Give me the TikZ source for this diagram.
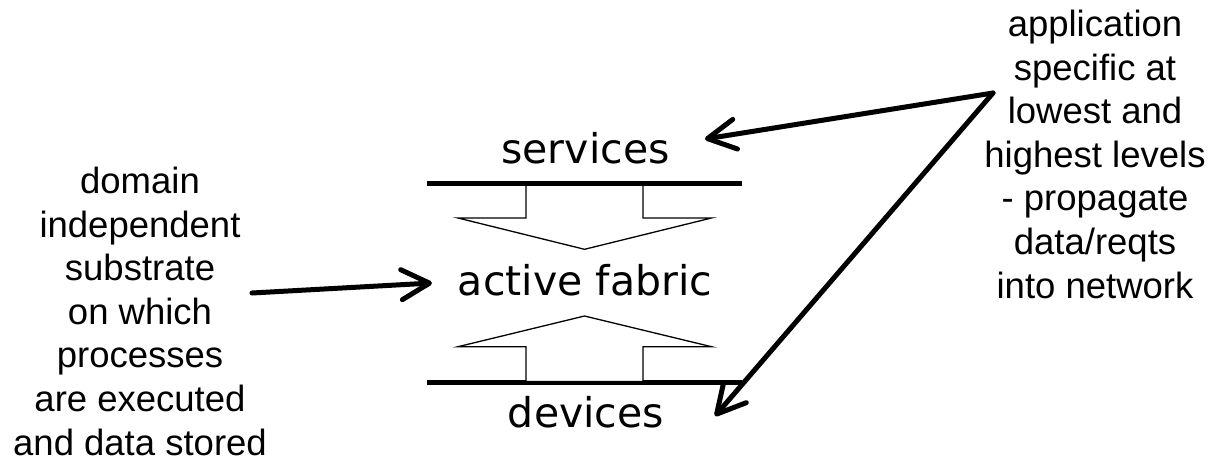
\documentclass[tikz,border=0pt]{standalone}
\usepackage{fontspec}
\setmainfont{Liberation Sans}
\newfontfamily\comicfont{DejaVu Sans}
\usetikzlibrary{arrows.meta}
\tikzset{
  note/.style={font=\fontsize{36.5}{43.6}\selectfont, align=center, inner sep=0pt, anchor=base},
  layer/.style={font=\comicfont\fontsize{41}{48}\selectfont, inner sep=0pt, anchor=base},
  bar/.style={line width=5pt},
  blockarrow/.style={draw, fill=white, line width=1.3pt, line join=miter},
  pointer/.style={line width=5pt, line cap=round, line join=round, -{Straight Barb[length=28pt,width=30pt,round]}}
}
\begin{document}
\begin{tikzpicture}[x=1pt,y=-1pt]
\useasboundingbox (0,0) rectangle (1215,461);
% texts
\node[note] (left) at (140,455) {domain\\independent\\substrate\\on which\\processes\\are executed\\and data stored};
\node[note] (right) at (1095,298) {application\\specific at\\lowest and\\highest levels\\- propagate\\data/reqts\\into network};
\node[layer] (services) at (585.5,163) {services};
\node[layer] (fabric) at (585,295) {active fabric};
\node[layer] (devices) at (586,427) {devices};
% top block arrow
\draw[blockarrow] (526,183) -- (526,218) -- (458,218) -- (584.5,249.3) -- (711.5,218) -- (643,218) -- (643,183);
\draw[bar] (427,183) -- (742,183);
% bottom block arrow
\draw[bar] (427,382.5) -- (742,382.5);
\draw[blockarrow] (526,381.5) -- (526,346.7) -- (458,346.7) -- (584.5,316) -- (711.5,346.7) -- (643,346.7) -- (643,381.5) -- cycle;
% pointers
\coordinate (lstart) at (252,293);
\coordinate (ltip) at (432,283);
\coordinate (rv) at (993,93);
\coordinate (stip) at (705,139);
\coordinate (dtip) at (715,416);
\draw[pointer] (lstart) -- (ltip);
\draw[pointer] (rv) -- (stip);
\draw[pointer] (rv) -- (dtip);
\end{tikzpicture}
\end{document}
